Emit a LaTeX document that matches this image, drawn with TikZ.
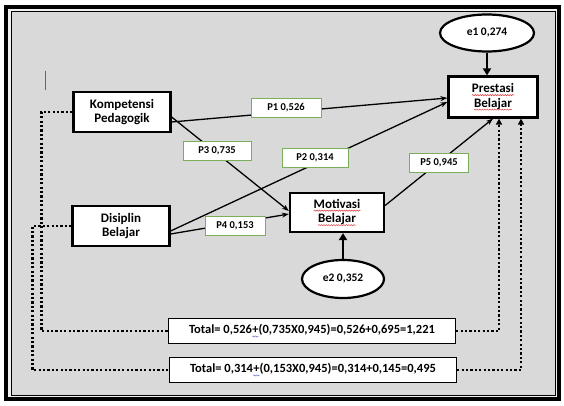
\documentclass[tikz,border=0pt]{standalone}
\usepackage{fontspec}
\setmainfont{Carlito}
\usetikzlibrary{arrows.meta, positioning, shapes.geometric, decorations.pathmorphing}
\definecolor{cbg}{HTML}{D9D9D9}
\definecolor{cgreen}{HTML}{7AAE5A}
\definecolor{cred}{HTML}{E03A3A}
\definecolor{cblue}{HTML}{5A6FD0}
\tikzset{
  every picture/.style={font=\bfseries},
  varbox/.style={draw=black, fill=white, line width=2.2pt, minimum width=97pt, minimum height=40pt, align=center, font=\fontsize{13}{14.5}\selectfont\bfseries},
  errnode/.style={ellipse, draw=black, fill=white, line width=2.2pt, minimum width=94pt, minimum height=37pt, font=\fontsize{11.5}{13}\selectfont\bfseries},
  coef/.style={draw=cgreen, fill=white, line width=0.9pt, minimum height=19pt, minimum width=#1, font=\fontsize{10.5}{12}\selectfont\bfseries},
  coef/.default=62pt,
  totalbox/.style={draw=black, fill=white, line width=1.3pt, minimum height=25pt, minimum width=287pt, font=\fontsize{12.5}{15}\selectfont\bfseries},
  link/.style={draw=black, line width=1.3pt, -{Stealth[length=7pt,width=5pt]}},
  errlink/.style={draw=black, line width=2.4pt, -{Triangle[length=7pt,width=8pt]}},
  dotlink/.style={draw=black, line width=2.2pt, dash pattern=on 2.2pt off 2.2pt},
  wavy/.style={decorate, decoration={snake, amplitude=0.6pt, segment length=2.5pt}, line width=0.5pt},
}
% spell-check squiggle under a word
\newcommand{\speller}[2][cred]{\tikz[baseline=(w.base)]{\node[rectangle, draw=none, fill=none, inner sep=0pt, outer sep=0pt, minimum width=0pt, minimum height=0pt] (w) {#2};
  \draw[#1, wavy] ([yshift=-2.5pt]w.base west) -- ([yshift=-2.5pt]w.base east);}}

\begin{document}
\begin{tikzpicture}[x=1pt, y=-1pt]
  \useasboundingbox (0,0) rectangle (564,406);
  % ---- frame
  \fill[white] (0,0) rectangle (564,406);
  \fill[black!6] (6,7) rectangle (559,399);
  \draw[black, line width=4pt] (6,7) rectangle (559,399);
  \draw[fill=cbg, line width=0.9pt] (11,11) rectangle (555,395);
  \draw[black!60, line width=0.6pt] (45,71) -- (45,90);
  % ---- variables
  \node[varbox] (kp) at (122,112) {Kompetensi\\Pedagogik};
  \node[varbox] (dp) at (121,226) {Disiplin\\Belajar};
  \node[varbox, minimum width=94pt, minimum height=39pt] (mb) at (337,212.5) {\speller{Motivasi}\\\speller{Belajar}};
  \node[varbox, minimum width=89pt, minimum height=41pt] (pb) at (493,97) {\speller{Prestasi}\\\speller{Belajar}};
  \node[errnode] (e1) at (487,33) {e1 0,274};
  \node[errnode, minimum width=82pt, minimum height=38pt] (e2) at (343,279) {e2 0,352};
  % ---- totals
  \node[totalbox] (t1) at (312,331) {Total= 0,526\speller[cblue]{+}(0,735X0,945)=0,526+0,695=1,221};
  \node[totalbox] (t2) at (313,370) {Total= 0,314\speller[cblue]{+}(0,153X0,945)=0,314+0,145=0,495};
  % ---- paths
  \draw[link] ([yshift=-10pt]kp.east) -- ([yshift=-1pt]pb.west);
  \draw[link] ([yshift=-5pt]kp.east) -- ([yshift=1.5pt]mb.west);
  \draw[link] ([yshift=-5pt]dp.east) -- ([yshift=-5pt]pb.west);
  \draw[link] ([yshift=-8pt]dp.east) -- ([yshift=-1.5pt]mb.west);
  \draw[link] ([yshift=7pt]mb.east) -- (pb.south);
  \draw[errlink] (e1) -- (e1 |- pb.north);
  \draw[errlink] (e2) -- (e2 |- mb.south);
  \node[coef=70pt] (p1) at (286,108) {P1 0,526};
  \node[coef=68pt] (p3) at (217,151) {P3 0,735};
  \node[coef=66pt] (p2) at (315,158) {P2 0,314};
  \node[coef=60pt] (p4) at (235,226) {P4 0,153};
  \node[coef=59pt] (p5) at (439,163) {P5 0,945};
  % ---- dotted totals
  \draw[dotlink] (kp.west) -- ++(-31,0) |- (t1.west);
  \draw[dotlink, -{Triangle[length=6pt,width=6pt]}] (t1.east) -| ([xshift=6pt]pb.south);
  \draw[dotlink] (dp.west) -- ++(-39,0) |- (t2.west);
  \draw[dotlink, -{Triangle[length=6pt,width=6pt]}] (t2.east) -| ([xshift=28pt]pb.south);
\end{tikzpicture}
\end{document}
